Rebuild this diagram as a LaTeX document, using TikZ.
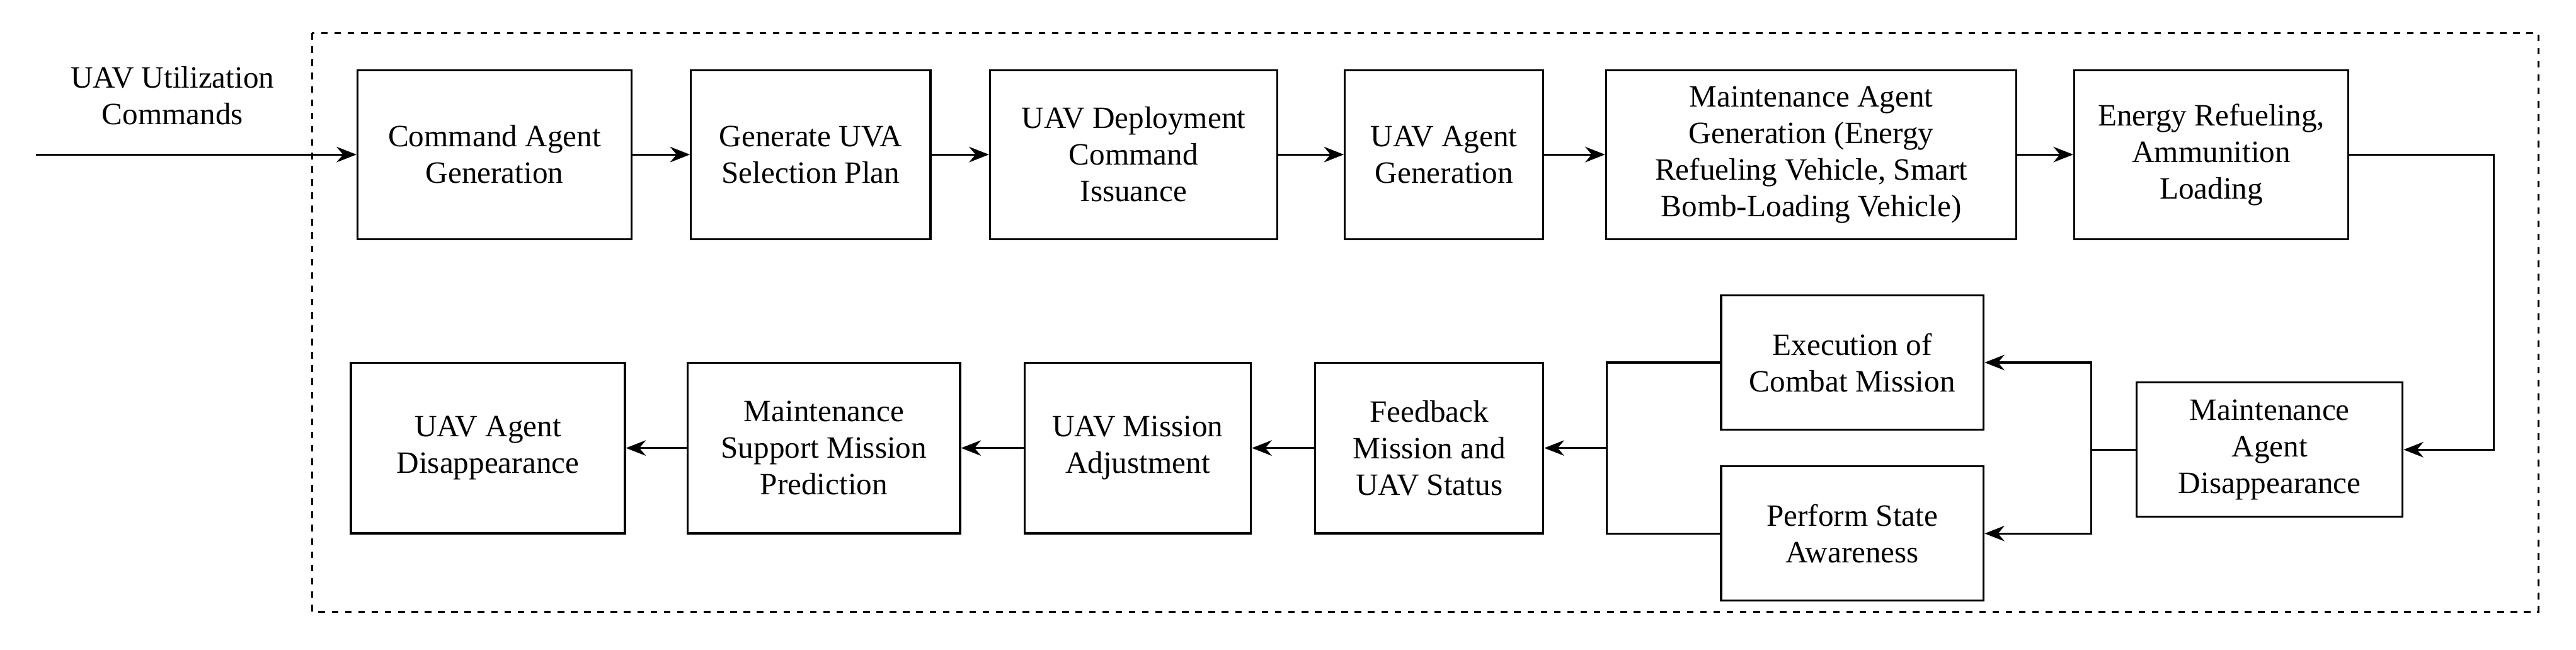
\documentclass[tikz,border=0pt]{standalone}
\usepackage{fontspec}
\setmainfont{Liberation Serif}
\usetikzlibrary{arrows.meta}
\begin{document}
\begin{tikzpicture}[x=0.02608cm,y=-0.02608cm,
  box/.style={draw,line width=0.9pt,align=center,font=\fontsize{14}{16.5}\selectfont,inner sep=0pt},
  arr/.style={-{Stealth[length=9pt,width=7pt]},line width=0.9pt},
  ln/.style={line width=0.9pt}]
\useasboundingbox (0,0) rectangle (1568,395);
\draw[dashed,line width=0.9pt] (190,20) rectangle (1545,372);
\newcommand{\bx}[6]{\node[box,minimum width=#4*0.02608cm-0.9pt,minimum height=#5*0.02608cm-0.9pt] (#1) at ({(#2+#4/2)},{(#3+#5/2)}) {#6};}
\bx{b1}{217}{42}{168}{104}{Command Agent\\Generation}
\bx{b2}{420}{42}{147}{104}{Generate UVA\\Selection Plan}
\bx{b3}{602}{42}{176}{104}{UAV Deployment\\Command\\Issuance}
\bx{b4}{818}{42}{122}{104}{UAV Agent\\Generation}
\bx{b5}{977}{42}{251}{104}{Maintenance Agent\\Generation (Energy\\Refueling Vehicle, Smart\\Bomb-Loading Vehicle)}
\bx{b6}{1262}{42}{168}{104}{Energy Refueling,\\Ammunition\\Loading}
\bx{b7}{1300}{232}{163}{83}{Maintenance\\Agent\\Disappearance}
\bx{b8}{1047}{179}{161}{83}{Execution of\\Combat Mission}
\bx{b9}{1047}{283}{161}{83}{Perform State\\Awareness}
\bx{b10}{800}{220}{140}{105}{Feedback\\Mission and\\UAV Status}
\bx{b11}{623}{220}{139}{105}{UAV Mission\\Adjustment}
\bx{b12}{418}{220}{167}{105}{Maintenance\\Support Mission\\Prediction}
\bx{b13}{213}{220}{168}{105}{UAV Agent\\Disappearance}
\node[align=center,font=\fontsize{14}{16.5}\selectfont] (in) at (105,58) {UAV Utilization\\Commands};
\coordinate (s) at (22,94);
\draw[arr] (s) -- (b1.west);
\draw[arr] (b1) -- (b2);
\draw[arr] (b2) -- (b3);
\draw[arr] (b3) -- (b4);
\draw[arr] (b4) -- (b5);
\draw[arr] (b5) -- (b6);
\coordinate (cx) at (1518,0);
\draw[arr] (b6.east) -- (b6.east -| cx) -- (b7.east -| cx) -- (b7.east);
\coordinate (sx) at (1273,0);
\draw[ln] (b7.west) -- (b7.west -| sx);
\draw[arr] (b7.west -| sx) |- (b8.east);
\draw[arr] (b7.west -| sx) |- (b9.east);
\coordinate (jx) at (978,0);
\draw[ln] (b8.west) -| (b10.east -| jx);
\draw[ln] (b9.west) -| (b10.east -| jx);
\draw[arr] (b10.east -| jx) -- (b10.east);
\draw[arr] (b10) -- (b11);
\draw[arr] (b11) -- (b12);
\draw[arr] (b12) -- (b13);
\end{tikzpicture}
\end{document}
